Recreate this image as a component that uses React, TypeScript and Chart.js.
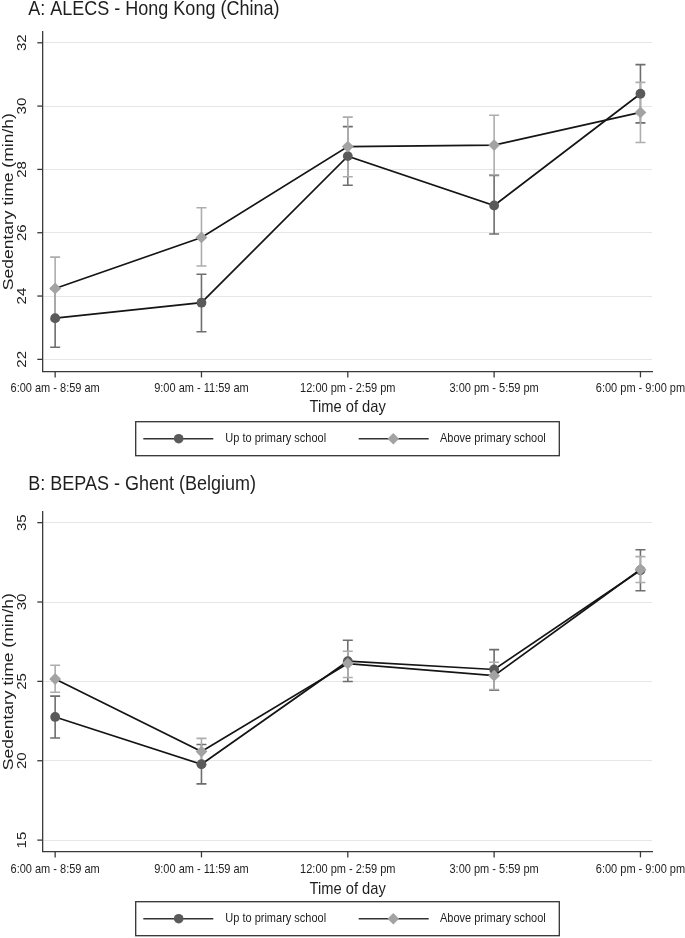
import React, { useEffect, useRef } from "react";
import { Chart, registerables } from "chart.js";

Chart.register(...registerables);

// ---------- data ----------
const categories = [
  "6:00 am - 8:59 am",
  "9:00 am - 11:59 am",
  "12:00 pm - 2:59 pm",
  "3:00 pm - 5:59 pm",
  "6:00 pm - 9:00 pm",
];
const seriesLabels = ["Up to primary school", "Above primary school"];
const xAxisTitle = "Time of day";
const yAxisTitle = "Sedentary time (min/h)";

// Panel A: ALECS - Hong Kong (China)
const hkTitle = "A: ALECS - Hong Kong (China)";
const hkPrimaryMean = [23.3, 23.79, 28.42, 26.86, 30.39];
const hkPrimaryLow = [22.38, 22.87, 27.5, 25.96, 29.47];
const hkPrimaryHigh = [24.22, 24.69, 29.35, 27.81, 31.31];
const hkAboveMean = [24.24, 25.85, 28.72, 28.77, 29.8];
const hkAboveLow = [23.25, 24.95, 27.77, 27.83, 28.85];
const hkAboveHigh = [25.23, 26.79, 29.65, 29.71, 30.75];
const hkYTicks = [22, 24, 26, 28, 30, 32];
const hkYRange = [21.61, 32.35];

// Panel B: BEPAS - Ghent (Belgium)
const ghTitle = "B: BEPAS - Ghent (Belgium)";
const ghPrimaryMean = [22.76, 19.78, 26.27, 25.75, 32.0];
const ghPrimaryLow = [21.43, 18.54, 24.99, 24.45, 30.71];
const ghPrimaryHigh = [24.07, 21.02, 27.59, 27.0, 33.29];
const ghAboveMean = [25.15, 20.58, 26.12, 25.36, 32.05];
const ghAboveLow = [24.32, 19.75, 25.24, 24.49, 31.23];
const ghAboveHigh = [26.02, 21.41, 26.9, 26.21, 32.86];
const ghYTicks = [15, 20, 25, 30, 35];
const ghYRange = [14.27, 35.69];

// ---------- styles ----------
const FONT = '"Liberation Sans", Arial, Helvetica, sans-serif';
const LINE = "#151515";
const AXIS = "#3a3a3a";
const GRID = "#e6e6e6";
const TEXT = "#1e1e1e";
const DARK_MARK = "#5a5a5a";
const LIGHT_MARK = "#a3a3a3";
const DARK_CI = "#6e6e6e";
const LIGHT_CI = "#adadad";
const W = 685;
const PLOT_LEFT = 43;
const PLOT_RIGHT = 652.3;

type PanelCfg = {
  title: string;
  height: number;
  titleY: number;
  plotTop: number;
  plotBottom: number;
  tickLabelY: number;
  axisTitleY: number;
  legendTop: number;
  yTicks: number[];
  yRange: number[];
  primary: number[];
  primaryLow: number[];
  primaryHigh: number[];
  above: number[];
  aboveLow: number[];
  aboveHigh: number[];
};

function drawText(
  ctx: CanvasRenderingContext2D,
  text: string,
  x: number,
  y: number,
  size: number,
  align: CanvasTextAlign,
  rotated: boolean,
  stretch: number
) {
  ctx.save();
  ctx.translate(x, y);
  if (rotated) {
    ctx.rotate(-Math.PI / 2);
    ctx.scale(stretch, 1);
  } else {
    ctx.scale(1, stretch);
  }
  ctx.font = `${size}px ${FONT}`;
  ctx.fillStyle = TEXT;
  ctx.textAlign = align;
  ctx.textBaseline = "middle";
  ctx.fillText(text, 0, 0);
  ctx.restore();
}

function drawMarker(
  ctx: CanvasRenderingContext2D,
  style: string,
  x: number,
  y: number,
  r: number,
  color: string
) {
  ctx.save();
  ctx.fillStyle = color;
  ctx.beginPath();
  if (style === "circle") {
    ctx.arc(x, y, r, 0, Math.PI * 2);
  } else {
    ctx.moveTo(x, y - r);
    ctx.lineTo(x + r, y);
    ctx.lineTo(x, y + r);
    ctx.lineTo(x - r, y);
    ctx.closePath();
  }
  ctx.fill();
  ctx.restore();
}

const errorBarPlugin = {
  id: "errorBars",
  beforeDatasetsDraw(chart: any) {
    const ctx = chart.ctx;
    const xs = chart.scales.x;
    const ys = chart.scales.y;
    chart.data.datasets.forEach((ds: any) => {
      ctx.save();
      ctx.strokeStyle = ds.errColor;
      ctx.lineWidth = 1.6;
      ds.errLow.forEach((lo: number, i: number) => {
        const hi = ds.errHigh[i];
        const px = xs.getPixelForValue(i);
        const pl = ys.getPixelForValue(lo);
        const ph = ys.getPixelForValue(hi);
        ctx.beginPath();
        ctx.moveTo(px, pl);
        ctx.lineTo(px, ph);
        ctx.moveTo(px - 5, pl);
        ctx.lineTo(px + 5, pl);
        ctx.moveTo(px - 5, ph);
        ctx.lineTo(px + 5, ph);
        ctx.stroke();
      });
      ctx.restore();
    });
  },
};

function makeDecorPlugin(cfg: PanelCfg) {
  return {
    id: "decor",
    afterDraw(chart: any) {
      const ctx: CanvasRenderingContext2D = chart.ctx;
      const xs = chart.scales.x;
      const ys = chart.scales.y;
      const area = chart.chartArea;
      // title
      drawText(ctx, cfg.title, 28.3, cfg.titleY, 18, "left", false, 1.08);
      // tick marks
      ctx.save();
      ctx.strokeStyle = AXIS;
      ctx.lineWidth = 1.3;
      cfg.yTicks.forEach((v) => {
        const py = ys.getPixelForValue(v);
        ctx.beginPath();
        ctx.moveTo(area.left - 5.7, py);
        ctx.lineTo(area.left, py);
        ctx.stroke();
      });
      categories.forEach((_, i) => {
        const px = xs.getPixelForValue(i);
        ctx.beginPath();
        ctx.moveTo(px, area.bottom);
        ctx.lineTo(px, area.bottom + 5.7);
        ctx.stroke();
      });
      ctx.restore();
      cfg.yTicks.forEach((v) => {
        const py = ys.getPixelForValue(v);
        drawText(ctx, String(v), 23, py, 12, "center", true, 1.25);
      });
      categories.forEach((c, i) => {
        const px = xs.getPixelForValue(i);
        drawText(ctx, c, px, cfg.tickLabelY, 11, "center", false, 1.1);
      });
      // axis titles
      drawText(
        ctx,
        xAxisTitle,
        (area.left + area.right) / 2,
        cfg.axisTitleY,
        14.7,
        "center",
        false,
        1.1
      );
      drawText(
        ctx,
        yAxisTitle,
        9.6,
        (area.top + area.bottom) / 2,
        14,
        "center",
        true,
        1.25
      );
      // legend
      const lx1 = 135.7;
      const lx2 = 559.3;
      const lt = cfg.legendTop;
      const lh = 34;
      ctx.save();
      ctx.fillStyle = "#ffffff";
      ctx.fillRect(lx1, lt, lx2 - lx1, lh);
      ctx.strokeStyle = "#333333";
      ctx.lineWidth = 1.3;
      ctx.strokeRect(lx1, lt, lx2 - lx1, lh);
      const cy = lt + lh / 2;
      const items = [
        { a: 143.3, b: 213.3, m: 178.7, t: 225.3, style: "circle", r: 4.8, color: DARK_MARK },
        { a: 358.7, b: 428.7, m: 393.3, t: 440, style: "diamond", r: 5.8, color: LIGHT_MARK },
      ];
      items.forEach((it, k) => {
        ctx.strokeStyle = "#333333";
        ctx.lineWidth = 1.6;
        ctx.beginPath();
        ctx.moveTo(it.a, cy);
        ctx.lineTo(it.b, cy);
        ctx.stroke();
        drawMarker(ctx, it.style, it.m, cy, it.r, it.color);
        drawText(ctx, seriesLabels[k], it.t, cy, 11, "left", false, 1.1);
      });
      ctx.restore();
    },
  };
}

function Panel({ cfg, top }: { cfg: PanelCfg; top: number }) {
  const ref = useRef<HTMLCanvasElement | null>(null);
  useEffect(() => {
    if (!ref.current) return;
    const pts = (arr: number[]) => arr.map((v, i) => ({ x: i, y: v }));
    const chart = new Chart(ref.current, {
      type: "line",
      data: {
        datasets: [
          {
            label: seriesLabels[0],
            data: pts(cfg.primary),
            borderColor: LINE,
            borderWidth: 1.7,
            pointStyle: "circle",
            pointRadius: 4.9,
            pointBackgroundColor: DARK_MARK,
            pointBorderColor: DARK_MARK,
            pointBorderWidth: 0,
            order: 1,
            errLow: cfg.primaryLow,
            errHigh: cfg.primaryHigh,
            errColor: DARK_CI,
          } as any,
          {
            label: seriesLabels[1],
            data: pts(cfg.above),
            borderColor: LINE,
            borderWidth: 1.7,
            pointStyle: "rectRot",
            pointRadius: 5.9,
            pointBackgroundColor: LIGHT_MARK,
            pointBorderColor: LIGHT_MARK,
            pointBorderWidth: 0,
            order: 0,
            errLow: cfg.aboveLow,
            errHigh: cfg.aboveHigh,
            errColor: LIGHT_CI,
          } as any,
        ],
      },
      options: {
        animation: false,
        responsive: false,
        devicePixelRatio: 1,
        events: [],
        layout: {
          padding: {
            left: PLOT_LEFT,
            right: W - PLOT_RIGHT,
            top: cfg.plotTop,
            bottom: cfg.height - cfg.plotBottom,
          },
        },
        plugins: {
          legend: { display: false },
          tooltip: { enabled: false },
          title: { display: false },
        },
        scales: {
          x: {
            type: "linear",
            min: -0.083,
            max: 4.081,
            ticks: { display: false },
            grid: { display: false, drawTicks: false },
            border: { display: true, color: AXIS, width: 1.3 },
            afterFit: (s: any) => {
              s.height = 0;
            },
            afterBuildTicks: (s: any) => {
              s.ticks = categories.map((_, i) => ({ value: i }));
            },
          },
          y: {
            type: "linear",
            min: cfg.yRange[0],
            max: cfg.yRange[1],
            ticks: { display: false },
            grid: { color: GRID, lineWidth: 1, drawTicks: false },
            border: { display: true, color: AXIS, width: 1.3 },
            afterFit: (s: any) => {
              s.width = 0;
            },
            afterBuildTicks: (s: any) => {
              s.ticks = cfg.yTicks.map((v) => ({ value: v }));
            },
          },
        },
      } as any,
      plugins: [errorBarPlugin, makeDecorPlugin(cfg)],
    });
    return () => chart.destroy();
  }, [cfg]);
  return (
    <canvas
      ref={ref}
      width={W}
      height={cfg.height}
      style={{
        position: "absolute",
        left: 0,
        top,
        width: W,
        height: cfg.height,
        display: "block",
      }}
    />
  );
}

const panelA: PanelCfg = {
  title: hkTitle,
  height: 465,
  titleY: 9.3,
  plotTop: 31.7,
  plotBottom: 371.7,
  tickLabelY: 389,
  axisTitleY: 407.7,
  legendTop: 421.7,
  yTicks: hkYTicks,
  yRange: hkYRange,
  primary: hkPrimaryMean,
  primaryLow: hkPrimaryLow,
  primaryHigh: hkPrimaryHigh,
  above: hkAboveMean,
  aboveLow: hkAboveLow,
  aboveHigh: hkAboveHigh,
};

const panelB: PanelCfg = {
  title: ghTitle,
  height: 473,
  titleY: 19.5,
  plotTop: 46.7,
  plotBottom: 386.7,
  tickLabelY: 405,
  axisTitleY: 424.7,
  legendTop: 436.7,
  yTicks: ghYTicks,
  yRange: ghYRange,
  primary: ghPrimaryMean,
  primaryLow: ghPrimaryLow,
  primaryHigh: ghPrimaryHigh,
  above: ghAboveMean,
  aboveLow: ghAboveLow,
  aboveHigh: ghAboveHigh,
};

export default function App() {
  return (
    <div
      style={{
        position: "absolute",
        left: 0,
        top: 0,
        width: W,
        height: 938,
        background: "#ffffff",
      }}
    >
      <Panel cfg={panelA} top={0} />
      <Panel cfg={panelB} top={465} />
    </div>
  );
}
